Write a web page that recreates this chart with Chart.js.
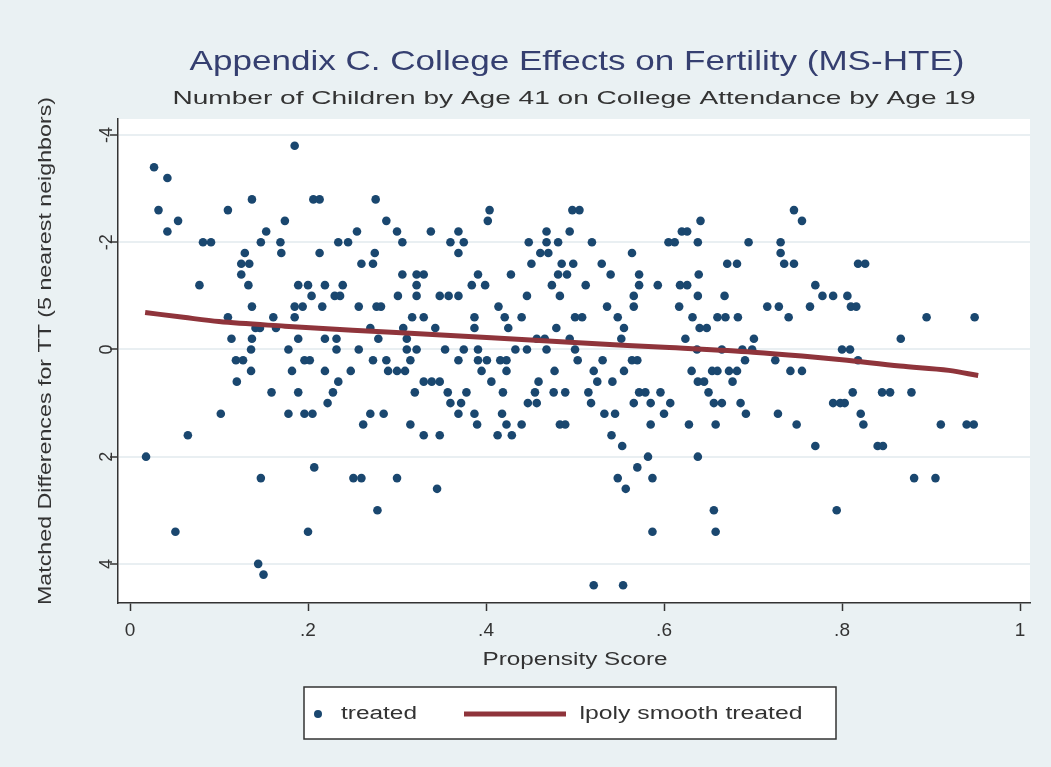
<!DOCTYPE html>
<html>
<head>
<meta charset="utf-8">
<script src="https://cdn.jsdelivr.net/npm/chart.js@4.4.1/dist/chart.umd.min.js"></script>
<style>
html, body { margin: 0; padding: 0; background: #eaf1f3; }
#wrap { width: 1051px; height: 767px; }
</style>
</head>
<body>
<div id="wrap"><canvas id="chart" width="1051" height="767"></canvas></div>
<script>
// propensity score / matched difference pairs
const propensity = [
  0.185, 0.027, 0.042, 0.137, 0.110, 0.032, 0.206, 0.213, 0.054, 0.174, 0.042, 0.153, 0.082, 0.091, 0.147, 0.169, 0.234, 0.245,
  0.129, 0.170, 0.213, 0.125, 0.134, 0.125, 0.078, 0.133, 0.189, 0.200, 0.219, 0.239, 0.204, 0.230, 0.236, 0.137, 0.185, 0.194,
  0.216, 0.110, 0.161, 0.185, 0.141, 0.146, 0.164, 0.114, 0.137, 0.189, 0.219, 0.232, 0.136, 0.178, 0.232,
  0.119, 0.127, 0.196, 0.202, 0.136, 0.182, 0.219, 0.248, 0.120, 0.234, 0.159, 0.189, 0.228, 0.222, 0.102, 0.178, 0.196, 0.205,
  0.065, 0.018, 0.207, 0.147, 0.051, 0.200, 0.144, 0.150,
  0.276, 0.404, 0.402, 0.288, 0.255, 0.300, 0.338, 0.369, 0.306, 0.360, 0.375, 0.448, 0.468, 0.497, 0.505, 0.494, 0.468, 0.481,
  0.275, 0.369, 0.461, 0.470, 0.260, 0.273, 0.451, 0.485, 0.498, 0.306, 0.322, 0.330, 0.391, 0.428, 0.481, 0.491, 0.322, 0.384,
  0.399, 0.474, 0.301, 0.322, 0.348, 0.358, 0.369, 0.446, 0.483, 0.257, 0.277, 0.282, 0.414, 0.317, 0.330, 0.387, 0.421, 0.440,
  0.270, 0.307, 0.343, 0.387, 0.425, 0.479, 0.279, 0.311, 0.457, 0.466, 0.494, 0.257, 0.311, 0.322, 0.354, 0.375, 0.391, 0.433,
  0.446, 0.468, 0.500,
  0.273, 0.288, 0.315, 0.369, 0.391, 0.401, 0.416, 0.423, 0.290, 0.300, 0.309, 0.395, 0.423, 0.477, 0.330, 0.339, 0.348, 0.406,
  0.459, 0.320, 0.357, 0.378, 0.419, 0.455, 0.476, 0.489, 0.360, 0.372, 0.447, 0.457, 0.270, 0.285, 0.369, 0.387, 0.418, 0.262,
  0.315, 0.390, 0.423, 0.440, 0.483, 0.489, 0.330, 0.348, 0.413, 0.429, 0.251, 0.260, 0.300, 0.345, 0.278,
  0.746, 0.641, 0.755, 0.620, 0.626, 0.519, 0.605, 0.612, 0.638, 0.695, 0.731, 0.564, 0.731, 0.530, 0.671, 0.682, 0.735, 0.746,
  0.540, 0.572, 0.639, 0.512, 0.572, 0.593, 0.618, 0.626, 0.566, 0.638, 0.668, 0.536, 0.566, 0.617, 0.716, 0.729, 0.764, 0.500,
  0.508, 0.548, 0.632, 0.660, 0.669, 0.683, 0.740, 0.555, 0.640, 0.648, 0.552, 0.624, 0.701, 0.637, 0.665, 0.688, 0.699,
  0.503, 0.531, 0.564, 0.570, 0.691, 0.725, 0.521, 0.555, 0.631, 0.654, 0.660, 0.673, 0.682, 0.742, 0.755, 0.525, 0.542, 0.638,
  0.645, 0.677, 0.515, 0.572, 0.579, 0.596, 0.650, 0.518, 0.566, 0.585, 0.607, 0.656, 0.665, 0.686, 0.533, 0.545, 0.600, 0.692,
  0.728, 0.585, 0.628, 0.658, 0.749, 0.541, 0.553, 0.582, 0.638, 0.570, 0.548, 0.587, 0.557, 0.656, 0.587, 0.658, 0.521, 0.554,
  0.818, 0.826, 0.770, 0.778, 0.790, 0.806, 0.810, 0.816, 0.895, 0.949, 0.866, 0.800, 0.809,
  0.818, 0.812, 0.845, 0.854, 0.878, 0.790, 0.798, 0.803, 0.821, 0.824, 0.911, 0.940, 0.948, 0.770, 0.840, 0.846, 0.881, 0.905,
  0.794
];
const matchedDiff = [
  -3.8, -3.4, -3.2, -2.8, -2.6, -2.6, -2.8, -2.8, -2.4, -2.4, -2.2, -2.2, -2.0, -2.0, -2.0, -2.0, -2.0, -2.0,
  -1.8, -1.8, -1.8, -1.6, -1.6, -1.4, -1.2, -1.2, -1.2, -1.2, -1.2, -1.2, -1.0, -1.0, -1.0, -0.8, -0.8, -0.8,
  -0.8, -0.6, -0.6, -0.6, -0.4, -0.4, -0.4, -0.2, -0.2, -0.2, -0.2, -0.2, 0, 0, 0,
  0.2, 0.2, 0.2, 0.2, 0.4, 0.4, 0.4, 0.4, 0.6, 0.6, 0.8, 0.8, 0.8, 1.0, 1.2, 1.2, 1.2, 1.2,
  1.6, 2.0, 2.2, 2.4, 3.4, 3.4, 4.0, 4.2,
  -2.8, -2.6, -2.4, -2.4, -2.2, -2.2, -2.2, -2.2, -2.0, -2.0, -2.0, -2.0, -2.2, -2.6, -2.6, -2.2, -2.0, -2.0,
  -1.8, -1.8, -1.8, -1.8, -1.6, -1.6, -1.6, -1.6, -1.6, -1.4, -1.4, -1.4, -1.4, -1.4, -1.4, -1.4, -1.2, -1.2,
  -1.2, -1.2, -1.0, -1.0, -1.0, -1.0, -1.0, -1.0, -1.0, -0.8, -0.8, -0.8, -0.8, -0.6, -0.6, -0.6, -0.6, -0.6,
  -0.4, -0.4, -0.4, -0.4, -0.4, -0.4, -0.2, -0.2, -0.2, -0.2, -0.2, 0, 0, 0, 0, 0, 0, 0,
  0, 0, 0,
  0.2, 0.2, 0.2, 0.2, 0.2, 0.2, 0.2, 0.2, 0.4, 0.4, 0.4, 0.4, 0.4, 0.4, 0.6, 0.6, 0.6, 0.6,
  0.6, 0.8, 0.8, 0.8, 0.8, 0.8, 0.8, 0.8, 1.0, 1.0, 1.0, 1.0, 1.2, 1.2, 1.2, 1.2, 1.2, 1.4,
  1.4, 1.4, 1.4, 1.4, 1.4, 1.4, 1.6, 1.6, 1.6, 1.6, 2.4, 2.4, 2.4, 2.6, 3.0,
  -2.6, -2.4, -2.4, -2.2, -2.2, -2.0, -2.0, -2.0, -2.0, -2.0, -2.0, -1.8, -1.8, -1.6, -1.6, -1.6, -1.6, -1.6,
  -1.4, -1.4, -1.4, -1.2, -1.2, -1.2, -1.2, -1.2, -1.0, -1.0, -1.0, -0.8, -0.8, -0.8, -0.8, -0.8, -0.8, -0.6,
  -0.6, -0.6, -0.6, -0.6, -0.6, -0.6, -0.6, -0.4, -0.4, -0.4, -0.2, -0.2, -0.2, 0, 0, 0, 0,
  0.2, 0.2, 0.2, 0.2, 0.2, 0.2, 0.4, 0.4, 0.4, 0.4, 0.4, 0.4, 0.4, 0.4, 0.4, 0.6, 0.6, 0.6,
  0.6, 0.6, 0.8, 0.8, 0.8, 0.8, 0.8, 1.0, 1.0, 1.0, 1.0, 1.0, 1.0, 1.0, 1.2, 1.2, 1.2, 1.2,
  1.2, 1.4, 1.4, 1.4, 1.4, 1.6, 1.8, 2.0, 2.0, 2.2, 2.4, 2.4, 2.6, 3.0, 3.4, 3.4, 4.4, 4.4,
  -1.6, -1.6, -1.2, -1.0, -1.0, -1.0, -0.8, -0.8, -0.6, -0.6, -0.2, 0, 0,
  0.2, 0.8, 0.8, 0.8, 0.8, 1.0, 1.0, 1.0, 1.2, 1.4, 1.4, 1.4, 1.4, 1.8, 1.8, 1.8, 2.4, 2.4,
  3.0
];

// local polynomial smooth
const smoothX = [0.017, 0.06, 0.10, 0.174, 0.25, 0.35, 0.45, 0.504, 0.6, 0.7, 0.755, 0.8, 0.865, 0.92, 0.953];
const smoothY = [-0.69, -0.60, -0.52, -0.435, -0.36, -0.27, -0.175, -0.125, -0.04, 0.05, 0.12, 0.19, 0.31, 0.39, 0.485];

const xTicks = [0, 0.2, 0.4, 0.6, 0.8, 1];
const yTicks = [-4, -2, 0, 2, 4];

const FONT = '"Liberation Sans", Arial, sans-serif';
const navy = "#1a476f";
const maroon = "#8f343b";

// draw a string centred at x,y, stretched to a given width
function fitText(ctx, text, x, y, size, width, color, rot) {
  ctx.save();
  ctx.font = size + "px " + FONT;
  ctx.fillStyle = color;
  ctx.textAlign = "center";
  ctx.textBaseline = "middle";
  ctx.translate(x, y);
  if (rot) ctx.rotate(rot);
  const w = ctx.measureText(text).width;
  if (width) ctx.scale(width / w, 1);
  ctx.fillText(text, 0, 0);
  ctx.restore();
}

const stataLook = {
  id: "stataLook",
  beforeDraw(chart) {
    const { ctx, chartArea: a } = chart;
    ctx.save();
    ctx.fillStyle = "#eaf1f3";
    ctx.fillRect(0, 0, chart.width, chart.height);
    ctx.fillStyle = "#ffffff";
    ctx.fillRect(a.left, a.top, a.right - a.left, a.bottom - a.top);
    ctx.restore();
  },
  afterDraw(chart) {
    const ctx = chart.ctx;
    const yScale = chart.scales.y;

    fitText(ctx, "Appendix C. College Effects on Fertility (MS-HTE)", 577, 62, 28, 775, "#353f70");
    fitText(ctx, "Number of Children by Age 41 on College Attendance by Age 19", 574, 99, 19, 803, "#333333");

    // y tick labels, rotated like Stata does
    yTicks.forEach((v) => {
      fitText(ctx, String(v), 107, yScale.getPixelForValue(v), 18, 0, "#333333", -Math.PI / 2);
    });

    fitText(ctx, "Matched Differences for TT (5 nearest neighbors)", 46, 351, 18, 508, "#333333", -Math.PI / 2);
    fitText(ctx, "Propensity Score", 575, 660, 18, 185, "#333333");

    // legend
    ctx.save();
    ctx.fillStyle = "#ffffff";
    ctx.fillRect(304, 687, 532, 52);
    ctx.strokeStyle = "#333333";
    ctx.lineWidth = 1.5;
    ctx.strokeRect(304, 687, 532, 52);
    ctx.fillStyle = navy;
    ctx.beginPath();
    ctx.arc(318, 714, 4, 0, Math.PI * 2);
    ctx.fill();
    ctx.strokeStyle = maroon;
    ctx.lineWidth = 5;
    ctx.beginPath();
    ctx.moveTo(464, 714);
    ctx.lineTo(566, 714);
    ctx.stroke();
    ctx.restore();
    fitText(ctx, "treated", 379, 714, 18, 76, "#333333");
    fitText(ctx, "lpoly smooth treated", 691, 714, 18, 223, "#333333");
  },
};

const treated = propensity.map((x, i) => ({ x: x, y: matchedDiff[i] }));
const smooth = smoothX.map((x, i) => ({ x: x, y: smoothY[i] }));

new Chart(document.getElementById("chart"), {
  data: {
    datasets: [
      {
        type: "scatter",
        label: "treated",
        data: treated,
        backgroundColor: navy,
        borderWidth: 0,
        pointRadius: 4.3,
        order: 2,
      },
      {
        type: "line",
        label: "lpoly smooth treated",
        data: smooth,
        borderColor: maroon,
        borderWidth: 5,
        pointRadius: 0,
        cubicInterpolationMode: "monotone",
        order: 1,
      },
    ],
  },
  options: {
    responsive: false,
    animation: false,
    devicePixelRatio: 1,
    layout: { padding: { left: 0, top: 119, right: 21, bottom: 114 } },
    plugins: {
      legend: { display: false },
      title: { display: false },
      tooltip: { enabled: false },
    },
    scales: {
      x: {
        type: "linear",
        position: "bottom",
        min: -0.0135,
        max: 1.0112,
        afterBuildTicks: (s) => { s.ticks = xTicks.map((v) => ({ value: v })); },
        afterFit: (s) => { s.height = 50; },
        ticks: {
          color: "#333333",
          font: { size: 19, family: FONT },
          padding: 8,
          maxRotation: 0,
          callback: (v) => (v === 0 || v === 1 ? String(v) : String(+v.toFixed(1)).replace("0.", ".")),
        },
        grid: { drawOnChartArea: false, tickLength: 8, tickColor: "#333333", tickWidth: 1.5 },
        border: { color: "#333333", width: 1.5 },
      },
      y: {
        type: "linear",
        reverse: true,
        min: -4.3,
        max: 4.73,
        afterBuildTicks: (s) => { s.ticks = yTicks.map((v) => ({ value: v })); },
        afterFit: (s) => { s.width = 118; },
        ticks: { display: false },
        grid: { color: "#e9eff2", lineWidth: 2, tickLength: 8, tickColor: "#333333", tickWidth: 1.5 },
        border: { color: "#333333", width: 1.5 },
      },
    },
  },
  plugins: [stataLook],
});
</script>
</body>
</html>
